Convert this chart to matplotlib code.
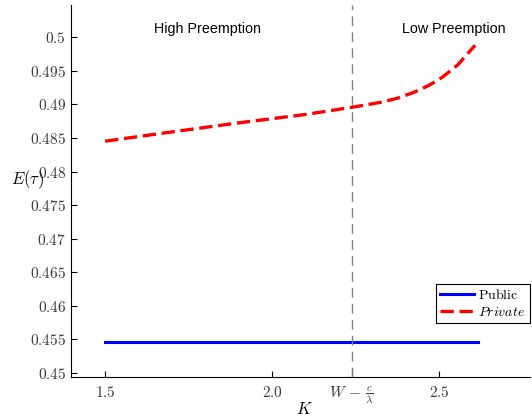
import numpy as np
import matplotlib
matplotlib.use("Agg")
import matplotlib.pyplot as plt

plt.rcParams['mathtext.fontset'] = 'cm'

# data
k_private = [1.5, 1.7, 1.9, 2.1, 2.24, 2.276, 2.327, 2.375, 2.425, 2.47, 2.509, 2.554, 2.599, 2.607]
e_private = [0.48452, 0.4859, 0.48725, 0.4885, 0.48958, 0.48988, 0.49033, 0.49092, 0.49182,
             0.49286, 0.49405, 0.49583, 0.49836, 0.4988]
k_public = [1.5, 2.615]
e_public = [0.45455, 0.45455]
threshold = 2.2375  # W - c/lambda

yticks = np.round(np.arange(0.45, 0.5001, 0.005), 3)
ytick_labels = ['$%g$' % v for v in yticks]
xticks = [1.5, 2.0, threshold, 2.5]
xtick_labels = ['$1.5$', '$2.0$', r'$W\,-\,\frac{c}{\lambda}$', '$2.5$']

fig = plt.figure(figsize=(5.32, 4.17), dpi=100)
ax = fig.add_axes([0.1335, 0.096, 0.862, 0.892])

ax.plot(k_public, e_public, color='blue', lw=2.2, label=r'$\mathrm{Public}$')
ax.plot(k_private, e_private, color='red', lw=2.4, ls=(0, (4, 1.7)), label=r'$Private$')
ax.axvline(threshold, color='gray', lw=1.0, ls=(0, (7, 4.5)))

ax.text(1.807, 0.5012, 'High Preemption', family='Liberation Sans', fontsize=10.3,
        ha='center', va='center')
ax.text(2.542, 0.5012, 'Low Preemption', family='Liberation Sans', fontsize=10.3,
        ha='center', va='center')

ax.set_xlim(1.398, 2.77)
ax.set_ylim(0.4494, 0.5048)
ax.set_yticks(yticks)
ax.set_yticklabels(ytick_labels)
ax.set_xticks(xticks)
ax.set_xticklabels(xtick_labels)
ax.tick_params(direction='in', labelsize=11, labelcolor='#3a3a3a', length=4)
ax.tick_params(axis='x', pad=6)

for s in ['top', 'right']:
    ax.spines[s].set_visible(False)

ax.set_xlabel('$K$', fontsize=12)
ax.xaxis.set_label_coords(0.508, -0.062)
ax.set_ylabel(r'$E(\tau)$', fontsize=12, rotation=0)
ax.yaxis.set_label_coords(-0.094, 0.50)

leg = ax.legend(loc='lower right', bbox_to_anchor=(1.0, 0.145), fontsize=10,
                fancybox=False, edgecolor='black', framealpha=1, borderaxespad=0,
                handlelength=2.45, borderpad=0.3, labelspacing=0.2, handletextpad=0.3)
leg.get_frame().set_linewidth(0.8)

fig.savefig('out.png', dpi=100)
